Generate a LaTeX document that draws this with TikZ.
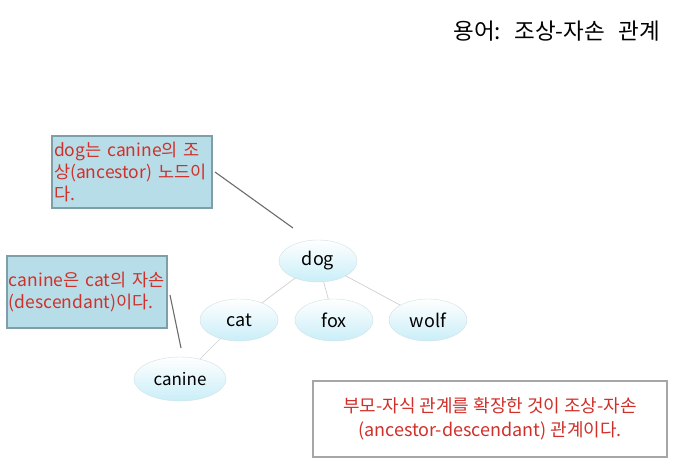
\documentclass[tikz,border=0pt]{standalone}
\usepackage{fontspec}
\setmainfont{Noto Sans CJK KR}
\usetikzlibrary{shapes.geometric}
\definecolor{boxblue}{HTML}{B7DDE8}
\definecolor{boxedge}{HTML}{7E9EA8}
\definecolor{txtred}{HTML}{D0302A}
\definecolor{ellcyan}{HTML}{C9EEF8}
\definecolor{edgegray}{HTML}{D0D0D0}
\tikzset{
  every node/.style={inner sep=0pt, outer sep=0pt},
  ell/.style={ellipse, minimum width=78pt, minimum height=42pt, top color=white, bottom color=ellcyan, draw=ellcyan!70!gray!60, line width=0.4pt, font=\fontsize{18}{20}\selectfont},
  note/.style={draw=boxedge, line width=1.6pt, fill=boxblue, text=txtred, align=left, font=\fontsize{17.5}{22}\selectfont, anchor=north west, text width=156pt, inner xsep=2pt, inner ysep=5pt},
  tree/.style={draw=edgegray, line width=0.7pt},
  pointer/.style={draw=gray!85!black, line width=1.1pt}
}
\begin{document}
\begin{tikzpicture}[x=1pt,y=-1pt]
\useasboundingbox[fill=white] (0,0) rectangle (678,471);
\node[anchor=east, font=\fontsize{22.5}{24}\selectfont] (title) at (660,31) {용어:\hspace{0.6em}조상-자손\hspace{0.6em}관계};
% tree
\node[ell] (dog) at (318,261) {dog};
\node[ell] (cat) at (239,320) {cat};
\node[ell] (fox) at (334,320) {fox};
\node[ell] (wolf) at (428,320) {wolf};
\node[ell, minimum width=92pt, minimum height=44pt, font=\fontsize{17}{20}\selectfont] (canine) at (180,379) {canine};
\draw[tree] (dog) -- (cat);
\draw[tree] (dog) -- (fox);
\draw[tree] (dog) -- (wolf);
\draw[tree] (cat) -- (canine);
% notes
\node[note, minimum width=160pt, minimum height=72pt, inner ysep=4pt] (n1) at (52,136) {dog는 canine의 조\\상(ancestor) 노드이\\다.};
\node[note, minimum width=160pt, minimum height=72pt, inner ysep=14pt] (n2) at (7,256) {canine은 cat의 자손\\(descendant)이다.};
\coordinate (p1a) at (215,172);
\coordinate (p1b) at (293,228);
\draw[pointer] (p1a) -- (p1b);
\coordinate (p2a) at (170,295);
\coordinate (p2b) at (181,348);
\draw[pointer] (p2a) -- (p2b);
% bottom box
\node[draw=gray!70, line width=1.2pt, fill=white, minimum width=354pt, minimum height=76pt, anchor=north west] (n3) at (313,381) {};
\node[text=txtred, align=center, font=\fontsize{18}{24}\selectfont] (n3t) at (n3.center) {부모-자식 관계를 확장한 것이 조상-자손\\(ancestor-descendant) 관계이다.};
\end{tikzpicture}
\end{document}
